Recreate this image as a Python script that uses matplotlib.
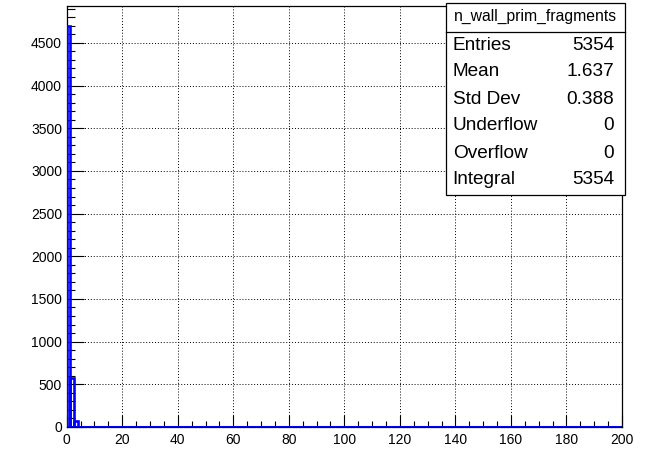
import numpy as np
import matplotlib
matplotlib.use('Agg')
import matplotlib.pyplot as plt
from matplotlib.patches import Rectangle
from matplotlib.ticker import MultipleLocator

plt.rcParams['font.family'] = ['Liberation Sans', 'DejaVu Sans']

# histogram: 150 bins over [0, 200], only the first three are filled
n_bins = 150
x_range = (0, 200)
counts = [4700, 578, 76]

stat_title = 'n_wall_prim_fragments'
stat_names = ['Entries', 'Mean', 'Std Dev', 'Underflow', 'Overflow', 'Integral']
stat_values = ['5354', '1.637', '0.388', '0', '0', '5354']

W, H = 656, 450
fig = plt.figure(figsize=(W / 100, H / 100), dpi=100)

def fx(px):
    return px / W

def fy(py):
    return 1 - py / H

left, right, top, bottom = 66.7, 622, 5.7, 427
ax = fig.add_axes([fx(left), fy(bottom), fx(right - left), (bottom - top) / H])

edges = np.linspace(x_range[0], x_range[1], n_bins + 1)
widths = np.diff(edges)
ax.bar(edges[:len(counts)], counts, width=widths[:len(counts)], align='edge',
       fill=False, edgecolor='#0000ff', linewidth=1.9, zorder=3)
ax.hlines(0, x_range[0], x_range[1], color='#0000ff', linewidth=2.2, zorder=3)

ax.set_xlim(*x_range)
ax.set_ylim(0, max(counts) * 1.05)

ax.xaxis.set_major_locator(MultipleLocator(20))
ax.xaxis.set_minor_locator(MultipleLocator(5))
ax.yaxis.set_major_locator(MultipleLocator(500))
ax.yaxis.set_minor_locator(MultipleLocator(100))

ax.tick_params(axis='both', which='both', direction='in', width=0.8,
               top=False, right=False, labelsize=10, colors='black')
ax.tick_params(axis='x', which='major', length=8.6, pad=4.3)
ax.tick_params(axis='x', which='minor', length=4.3)
ax.tick_params(axis='y', which='major', length=12, pad=3.4)
ax.tick_params(axis='y', which='minor', length=6)

ax.grid(True, which='major', linestyle=(0, (1, 2)), color='black', linewidth=0.7)
ax.set_axisbelow(True)
for s in ax.spines.values():
    s.set_linewidth(0.9)

# stats box
bx0, bx1, by0, by1, ysep = 446, 625, 3, 195, 32
fig.patches.append(Rectangle((fx(bx0), fy(by1)), fx(bx1 - bx0), (by1 - by0) / H,
                             transform=fig.transFigure, facecolor='white',
                             edgecolor='black', linewidth=0.9, zorder=10))
fig.add_artist(plt.Line2D([fx(bx0), fx(bx1)], [fy(ysep), fy(ysep)],
                          transform=fig.transFigure, color='black', linewidth=0.9, zorder=11))
fig.text(fx((bx0 + bx1) / 2), fy(16.7), stat_title, ha='center', va='center',
         fontsize=11.3, zorder=12)
for i, (name, val) in enumerate(zip(stat_names, stat_values)):
    yy = fy(45 + i * 27)
    fig.text(fx(452.7), yy, name, ha='left', va='center', fontsize=13.7, zorder=12)
    fig.text(fx(614), yy, val, ha='right', va='center', fontsize=13.7, zorder=12)

fig.savefig('out.png', dpi=100)
